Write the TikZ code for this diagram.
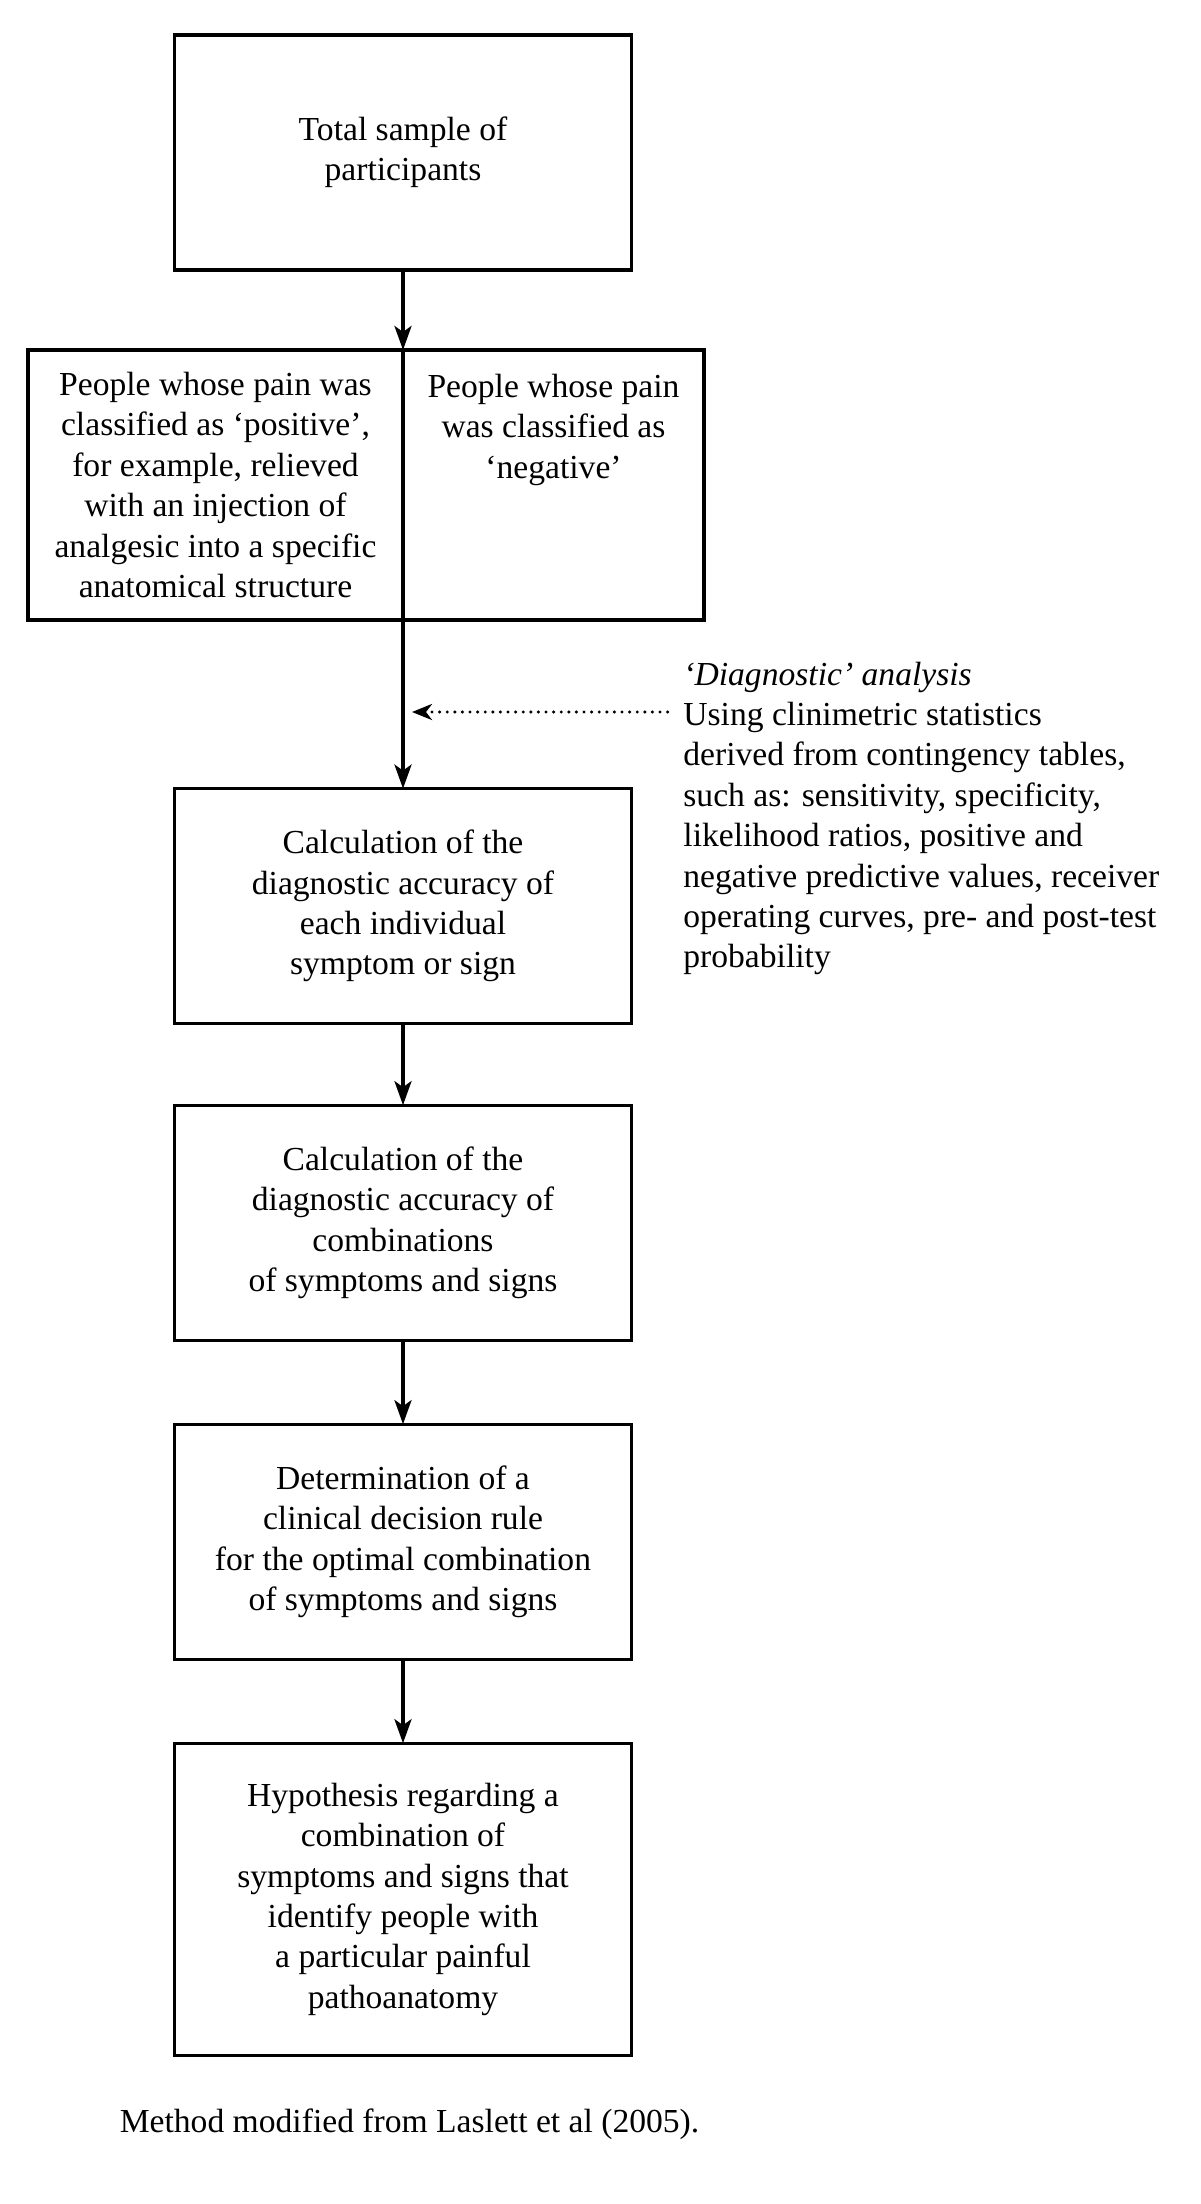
\documentclass[tikz,border=0pt]{standalone}
\usepackage{fontspec}
\setmainfont{Liberation Serif}
\usetikzlibrary{positioning,arrows.meta}

\begin{document}
\begin{tikzpicture}[
      x=1pt, y=1pt,
      nodes={
        font=\fontsize{16.8}{20.2}\selectfont, align=center, inner sep=0pt
      },
      block/.style={
        draw=black, line width=1.6pt, outer sep=0pt,
        minimum width=228.5pt, minimum height=117.5pt
      },
      dotarrow/.style={
        line width=1.7pt, line cap=round, dash pattern=on 0pt off 3.8pt,
        -{Stealth[length=10pt,width=8pt,inset=3pt]}
      },
      line width=1.8pt, >={Stealth[length=12pt,width=8.5pt,inset=3pt]},
      node distance=40.8pt
      ]

  \useasboundingbox (0,0) rectangle (600,-1102);

  % Define nodes
  \node[block, anchor=north] (total) at (201.5,-17.5) {Total sample of\\participants};
  \node[block, below left=40pt and 0pt of total.south,
        minimum width=187.5pt, minimum height=135pt] (pos)
        {People whose pain was\\classified as ‘positive’,\\for example, relieved\\with an injection of\\analgesic into a specific\\anatomical structure};
  \node[block, below right=40pt and 0pt of total.south,
        minimum width=150.5pt, minimum height=135pt] (neg)
        {\parbox[c][135pt][t]{150pt}{\vspace*{12pt}\centering People whose pain\\was classified as\\‘negative’}};
  \node[block, below=84.3pt of pos.south east] (single)
        {Calculation of the\\diagnostic accuracy of\\each individual\\symptom or sign};
  \node[block, below=of single] (combo)
        {Calculation of the\\diagnostic accuracy of\\combinations\\of symptoms and signs};
  \node[block, below=42pt of combo] (rule)
        {Determination of a\\clinical decision rule\\for the optimal combination\\of symptoms and signs};
  \node[block, below=42pt of rule, minimum height=156pt] (hypo)
        {Hypothesis regarding a\\combination of\\symptoms and signs that\\identify people with\\a particular painful\\pathoanatomy};

  % Side note
  \node[anchor=north west, align=left] (diag) at (340.8,-330)
        {\textit{‘Diagnostic’ analysis}\\Using clinimetric statistics\\derived from contingency tables,\\such as: sensitivity, specificity,\\likelihood ratios, positive and\\negative predictive values, receiver\\operating curves, pre- and post-test\\probability};
  \node[anchor=west] (source) at (59,-1062.3) {Method modified from Laslett et al (2005).};

  % Connect the nodes
  \draw[->] (total) -- (pos.north east);
  \draw[->] (pos.south east) -- (single);
  \draw[->] (single) -- (combo);
  \draw[->] (combo) -- (rule);
  \draw[->] (rule) -- (hypo);
  \draw[dotarrow, shorten >=4.5pt] ([xshift=-7pt,yshift=-26pt]diag.north west)
        coordinate (dotstart) -- (dotstart -| single.north);

\end{tikzpicture}
\end{document}
